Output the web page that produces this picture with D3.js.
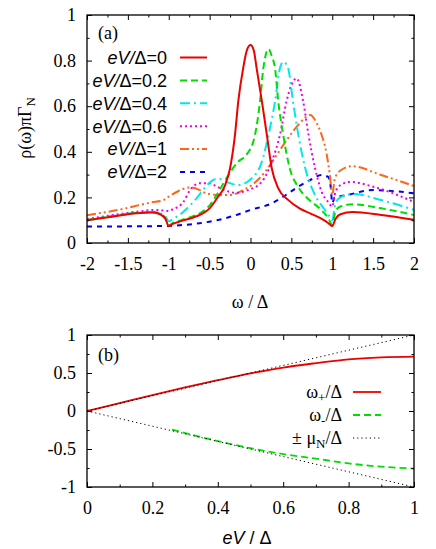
<!DOCTYPE html>
<html>
<head>
<meta charset="utf-8">
<script src="https://cdn.jsdelivr.net/npm/d3@7"></script>
<style>
	body { margin: 0; background: #fff; }
	svg text { font-family: "Liberation Serif", "Times New Roman", serif; font-size: 18px; fill: #000; }
	svg text.sans { font-family: "Liberation Sans", Arial, sans-serif; }
	.axis path { display: none; }
	.axis line { stroke: #000; stroke-width: 1; }
</style>
</head>
<body>
<svg id="chart" width="436" height="549"></svg>
<script>
// ---- panel (a) data: rho(w)*pi*Gamma_N vs w/Delta, one array per bias ----
const rho0 = [[-2,0.100],[-1.7,0.115],[-1.4,0.130],[-1.2,0.134],[-1.1,0.125],[-1.04,0.105],[-1.0,0.074],[-0.95,0.084],[-0.84,0.097],[-0.7,0.112],[-0.6,0.127],[-0.5,0.152],[-0.41,0.196],[-0.31,0.254],[-0.25,0.328],[-0.19,0.474],[-0.15,0.62],[-0.09,0.766],[-0.04,0.85],[0,0.868],[0.04,0.845],[0.075,0.766],[0.14,0.62],[0.2,0.474],[0.26,0.328],[0.34,0.24],[0.46,0.189],[0.6,0.152],[0.73,0.13],[0.85,0.11],[0.95,0.088],[1.0,0.074],[1.04,0.105],[1.1,0.126],[1.25,0.136],[1.6,0.123],[2,0.102]];
const rho02 = [[-2,0.101],[-1.7,0.117],[-1.4,0.132],[-1.2,0.136],[-1.1,0.128],[-1.04,0.108],[-1.0,0.078],[-0.95,0.088],[-0.84,0.101],[-0.7,0.118],[-0.6,0.135],[-0.5,0.165],[-0.39,0.225],[-0.27,0.298],[-0.15,0.357],[-0.05,0.386],[0.055,0.474],[0.116,0.62],[0.157,0.766],[0.19,0.83],[0.22,0.851],[0.26,0.82],[0.3,0.766],[0.34,0.62],[0.4,0.474],[0.48,0.328],[0.585,0.245],[0.7,0.195],[0.85,0.15],[0.95,0.11],[1.0,0.08],[1.04,0.14],[1.1,0.16],[1.25,0.17],[1.6,0.152],[2,0.123]];
const rho04 = [[-2,0.100],[-1.7,0.117],[-1.4,0.133],[-1.2,0.137],[-1.1,0.13],[-1.04,0.115],[-1.0,0.095],[-0.95,0.105],[-0.82,0.137],[-0.66,0.196],[-0.52,0.258],[-0.43,0.28],[-0.37,0.28],[-0.27,0.265],[-0.15,0.254],[0.015,0.284],[0.14,0.357],[0.22,0.474],[0.3,0.62],[0.36,0.766],[0.40,0.795],[0.46,0.766],[0.52,0.62],[0.585,0.474],[0.67,0.328],[0.79,0.21],[0.9,0.15],[0.97,0.115],[1.0,0.10],[1.04,0.175],[1.1,0.2],[1.26,0.215],[1.58,0.19],[2,0.145]];
const rho06 = [[-2,0.105],[-1.7,0.122],[-1.4,0.137],[-1.15,0.145],[-1.05,0.142],[-1.0,0.14],[-0.95,0.148],[-0.82,0.18],[-0.74,0.232],[-0.62,0.262],[-0.5,0.262],[-0.41,0.247],[-0.29,0.228],[-0.17,0.22],[-0.03,0.232],[0.14,0.269],[0.26,0.357],[0.36,0.474],[0.44,0.62],[0.5,0.693],[0.565,0.722],[0.645,0.62],[0.71,0.474],[0.79,0.328],[0.87,0.225],[0.95,0.18],[1.0,0.16],[1.04,0.225],[1.12,0.258],[1.22,0.268],[1.5,0.247],[2,0.18]];
const rho1 = [[-2,0.122],[-1.62,0.145],[-1.21,0.178],[-1.07,0.187],[-1.0,0.203],[-0.88,0.228],[-0.74,0.244],[-0.62,0.232],[-0.54,0.218],[-0.37,0.21],[-0.25,0.21],[-0.09,0.232],[0.015,0.254],[0.18,0.313],[0.32,0.386],[0.46,0.46],[0.585,0.518],[0.73,0.561],[0.81,0.525],[0.87,0.474],[0.93,0.393],[0.97,0.3],[1.0,0.21],[1.03,0.28],[1.1,0.318],[1.24,0.337],[1.6,0.298],[2,0.25]];
const rho2 = [[-2,0.072],[-1.5,0.073],[-1.0,0.075],[-0.82,0.079],[-0.62,0.087],[-0.41,0.10],[-0.2,0.12],[0,0.145],[0.26,0.174],[0.4,0.203],[0.585,0.247],[0.73,0.276],[0.87,0.298],[0.95,0.29],[0.98,0.25],[1.0,0.175],[1.03,0.2],[1.15,0.208],[1.5,0.232],[2,0.218]];
const biasLabels = ['0', '0.2', '0.4', '0.6', '1', '2'];

const omegaTicks = [-2, -1.5, -1, -0.5, 0, 0.5, 1, 1.5, 2];
const omegaMinor = [-1.75, -1.25, -0.75, -0.25, 0.25, 0.75, 1.25, 1.75];
const rhoTicks = [0, 0.2, 0.4, 0.6, 0.8, 1];
const rhoMinor = [0.1, 0.3, 0.5, 0.7, 0.9];

// ---- panel (b) data: peak positions vs eV/Delta ----
const eVPlus = [0, 0.1, 0.2, 0.3, 0.4, 0.5, 0.6, 0.7, 0.8, 0.9, 1.0];
const omegaPlus = [0, 0.105, 0.21, 0.31, 0.405, 0.495, 0.572, 0.63, 0.68, 0.705, 0.715];
const eVMinus = [0.26, 0.3, 0.4, 0.5, 0.6, 0.7, 0.8, 0.9, 1.0];
const omegaMinus = [-0.245, -0.29, -0.395, -0.49, -0.567, -0.627, -0.69, -0.733, -0.757];
const eVMu = [0, 1];
const muN = [0, 1];

const eVTicks = [0, 0.2, 0.4, 0.6, 0.8, 1];
const eVMinor = [0.1, 0.3, 0.5, 0.7, 0.9];
const omegaBTicks = [-1, -0.5, 0, 0.5, 1];
const omegaBMinor = [-0.75, -0.25, 0.25, 0.75];

// styles
const colors = ['#ee0000', '#00dd00', '#00e8e8', '#ee00ee', '#ff6619', '#0000ee'];
const dashes = [null, '7,4', '10,4,2,4', '2,3', '9,3,2,3,2,3', '5,5'];

const svg = d3.select('#chart');
const fmt = d => String(d);

// frame with inward ticks on all four sides
function drawFrame(g, x, y, w, h, xT, xM, yT, yM) {
	g.append('rect').attr('width', w).attr('height', h)
		.attr('fill', 'none').attr('stroke', '#000').attr('stroke-width', 1.3);

	g.append('g').attr('class', 'axis').attr('transform', `translate(0,${h})`)
		.call(d3.axisBottom(x).tickValues(xT).tickSize(-5).tickPadding(14).tickFormat(fmt));
	g.append('g').attr('class', 'axis').attr('transform', `translate(0,${h})`)
		.call(d3.axisBottom(x).tickValues(xM).tickSize(-2.5).tickFormat(''));
	g.append('g').attr('class', 'axis')
		.call(d3.axisTop(x).tickValues(xT).tickSize(-5).tickFormat(''));
	g.append('g').attr('class', 'axis')
		.call(d3.axisTop(x).tickValues(xM).tickSize(-2.5).tickFormat(''));

	g.append('g').attr('class', 'axis')
		.call(d3.axisLeft(y).tickValues(yT).tickSize(-5).tickPadding(11).tickFormat(fmt));
	g.append('g').attr('class', 'axis')
		.call(d3.axisLeft(y).tickValues(yM).tickSize(-2.5).tickFormat(''));
	g.append('g').attr('class', 'axis').attr('transform', `translate(${w},0)`)
		.call(d3.axisRight(y).tickValues(yT).tickSize(-5).tickFormat(''));
	g.append('g').attr('class', 'axis').attr('transform', `translate(${w},0)`)
		.call(d3.axisRight(y).tickValues(yM).tickSize(-2.5).tickFormat(''));

	g.selectAll('.axis text').style('font-size', '18px')
		.style('font-family', '"Liberation Serif", "Times New Roman", serif');
}

// ---------------- panel (a) ----------------
const marginA = { left: 87, top: 15 };
const wA = 327, hA = 228;
const gA = svg.append('g').attr('transform', `translate(${marginA.left},${marginA.top})`);

const xA = d3.scaleLinear().domain([-2, 2]).range([0, wA]);
const yA = d3.scaleLinear().domain([0, 1]).range([hA, 0]);

gA.append('clipPath').attr('id', 'clipA')
	.append('rect').attr('width', wA).attr('height', hA);

const lineA = d3.line()
	.x(d => xA(d[0]))
	.y(d => yA(d[1]))
	.curve(d3.curveMonotoneX);

const seriesA = [rho0, rho02, rho04, rho06, rho1, rho2];
const curvesA = gA.append('g').attr('clip-path', 'url(#clipA)');
// draw back to front so red ends up on top
seriesA.slice().reverse().forEach((s, k) => {
	const i = seriesA.length - 1 - k;
	curvesA.append('path')
		.attr('d', lineA(s))
		.attr('fill', 'none')
		.attr('stroke', colors[i])
		.attr('stroke-width', 2)
		.attr('stroke-dasharray', dashes[i]);
});

drawFrame(gA, xA, yA, wA, hA, omegaTicks, omegaMinor, rhoTicks, rhoMinor);

gA.append('text').attr('x', 11).attr('y', 18).attr('dy', '0.35em').text('(a)');

// legend (a)
const legA = gA.append('g').attr('transform', 'translate(0,42.5)');
biasLabels.forEach((lab, i) => {
	const row = legA.append('g').attr('transform', `translate(0,${i * 22.9})`);
	const t = row.append('text').attr('class', 'sans')
		.attr('x', 80).attr('y', 0).attr('dy', '0.35em')
		.attr('text-anchor', 'end');
	t.append('tspan').style('font-style', 'italic').text('eV/');
	t.append('tspan').text('Δ=' + lab);
	row.append('line')
		.attr('x1', 93).attr('x2', 120)
		.attr('stroke', colors[i]).attr('stroke-width', 2)
		.attr('stroke-dasharray', dashes[i]);
});

// axis titles (a)
svg.append('text')
	.attr('x', 250).attr('y', 302).attr('dy', '0.35em')
	.attr('text-anchor', 'middle')
	.text('ω / Δ');

const yTitle = svg.append('text')
	.attr('transform', 'translate(25,128) rotate(-90)')
	.attr('dy', '0.35em')
	.attr('text-anchor', 'middle');
yTitle.append('tspan').text('ρ(ω)πΓ');
yTitle.append('tspan').attr('dy', '0.3em').style('font-size', '13px').text('N');

// ---------------- panel (b) ----------------
const marginB = { left: 87, top: 335 };
const wB = 327, hB = 152;
const gB = svg.append('g').attr('transform', `translate(${marginB.left},${marginB.top})`);

const xB = d3.scaleLinear().domain([0, 1]).range([0, wB]);
const yB = d3.scaleLinear().domain([-1, 1]).range([hB, 0]);

gB.append('clipPath').attr('id', 'clipB')
	.append('rect').attr('width', wB).attr('height', hB);

const lineB = d3.line()
	.x(d => xB(d[0]))
	.y(d => yB(d[1]))
	.curve(d3.curveMonotoneX);

const curvesB = gB.append('g').attr('clip-path', 'url(#clipB)');

curvesB.append('path')
	.attr('d', lineB(eVPlus.map((v, i) => [v, omegaPlus[i]])))
	.attr('fill', 'none').attr('stroke', '#ee0000').attr('stroke-width', 1.8);

curvesB.append('path')
	.attr('d', lineB(eVMinus.map((v, i) => [v, omegaMinus[i]])))
	.attr('fill', 'none').attr('stroke', '#00dd00').attr('stroke-width', 1.8)
	.attr('stroke-dasharray', '7,4');

[1, -1].forEach(sign => {
	curvesB.append('path')
		.attr('d', lineB(eVMu.map((v, i) => [v, sign * muN[i]])))
		.attr('fill', 'none').attr('stroke', '#000').attr('stroke-width', 1)
		.attr('stroke-dasharray', '1.2,3');
});

drawFrame(gB, xB, yB, wB, hB, eVTicks, eVMinor, omegaBTicks, omegaBMinor);

gB.append('text').attr('x', 11).attr('y', 20).attr('dy', '0.35em').text('(b)');

// legend (b)
const legB = [
	{ sym: 'ω', sub: '+', pre: '', color: '#ee0000', dash: null, w: 1.8 },
	{ sym: 'ω', sub: '-', pre: '', color: '#00dd00', dash: '7,4', w: 1.8 },
	{ sym: 'μ', sub: 'N', pre: '± ', color: '#000', dash: '1.2,3', w: 1 }
];
legB.forEach((d, i) => {
	const yy = 57 + i * 23;
	const t = gB.append('text')
		.attr('x', 255).attr('y', yy).attr('dy', '0.35em')
		.attr('text-anchor', 'end');
	t.append('tspan').text(d.pre + d.sym);
	t.append('tspan').attr('dy', '0.3em').style('font-size', '13px').text(d.sub);
	t.append('tspan').attr('dy', '-0.25em').text('/Δ');
	gB.append('line')
		.attr('x1', 266).attr('x2', 294)
		.attr('y1', yy).attr('y2', yy)
		.attr('stroke', d.color).attr('stroke-width', d.w)
		.attr('stroke-dasharray', d.dash);
});

const xTitleB = svg.append('text').attr('class', 'sans')
	.attr('x', 247).attr('y', 538).attr('dy', '0.35em')
	.attr('text-anchor', 'middle');
xTitleB.append('tspan').style('font-style', 'italic').text('eV');
xTitleB.append('tspan').text(' / Δ');
</script>
</body>
</html>
